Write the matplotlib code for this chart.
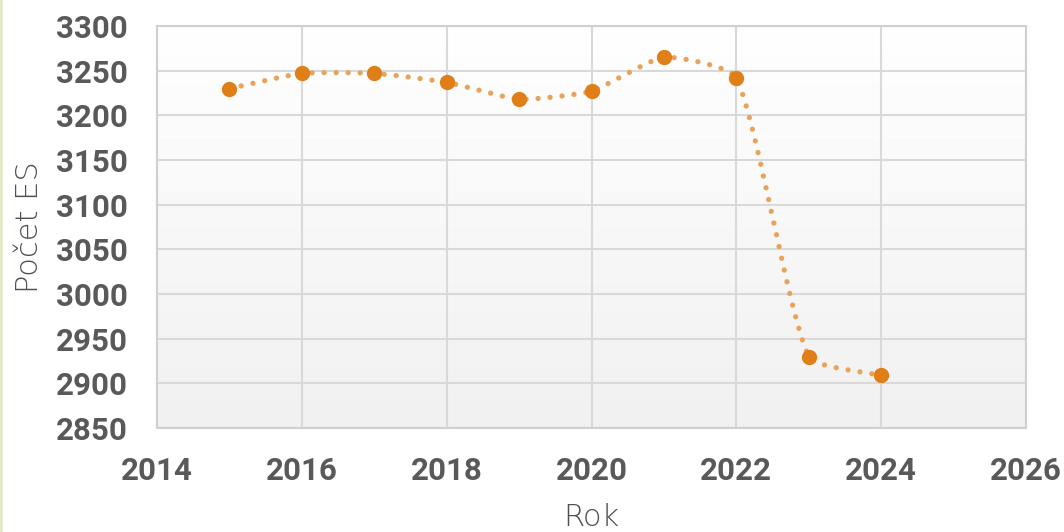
import numpy as np
import matplotlib
matplotlib.use("Agg")
import matplotlib.pyplot as plt
from matplotlib.lines import Line2D

years = [2015, 2016, 2017, 2018, 2019, 2020, 2021, 2022, 2023, 2024]
counts = [3230, 3247, 3247, 3237, 3218, 3227, 3265, 3242, 2930, 2909]
x_ticks = [2014, 2016, 2018, 2020, 2022, 2024, 2026]
y_ticks = [2850, 2900, 2950, 3000, 3050, 3100, 3150, 3200, 3250, 3300]
x_label = "Rok"
y_label = "Počet ES"

W, H = 1064, 532
L, R, T, B = 157, 1026, 26, 428


def smooth(ax, xs, ys, n=60, k=1 / 6):
    # Excel-like smoothing: cubic Bezier with normalized tangents, done in pixel space
    P = ax.transData.transform(np.column_stack([xs, ys]))
    m = len(P)
    D = []
    for i in range(m):
        a = P[i - 1] if i > 0 else P[i]
        b = P[i + 1] if i < m - 1 else P[i]
        d = b - a
        D.append(d / np.hypot(*d))
    out = []
    for i in range(m - 1):
        p1, p2 = P[i], P[i + 1]
        Ln = np.hypot(*(p2 - p1))
        c1 = p1 + D[i] * Ln * k
        c2 = p2 - D[i + 1] * Ln * k
        t = np.linspace(0, 1, n, endpoint=(i == m - 2))[:, None]
        seg = ((1 - t) ** 3) * p1 + 3 * ((1 - t) ** 2) * t * c1 + 3 * (1 - t) * t ** 2 * c2 + t ** 3 * p2
        out.append(seg)
    out = ax.transData.inverted().transform(np.vstack(out))
    return out[:, 0], out[:, 1]


fig = plt.figure(figsize=(W / 100, H / 100), dpi=100)
ax = fig.add_axes([L / W, 1 - B / H, (R - L) / W, (B - T) / H])

grad = np.linspace(1.0, 0.945, 256)[:, None]
ax.imshow(np.dstack([grad, grad, grad]), extent=[0, 1, 0, 1], transform=ax.transAxes,
          aspect="auto", zorder=0, interpolation="bicubic")

ax.set_xlim(2014, 2026)
ax.set_ylim(2850, 3300)
ax.set_xticks(x_ticks)
ax.set_yticks(y_ticks)
ax.grid(True, color="#D9D9D9", linewidth=1.5, zorder=1)
ax.set_axisbelow(True)
for s in ax.spines.values():
    s.set_color("#D0D0D0")
    s.set_linewidth(1.5)
ax.tick_params(length=0)
ax.tick_params(axis="y", pad=21)
ax.tick_params(axis="x", pad=20)
for lbl in ax.get_xticklabels() + ax.get_yticklabels():
    lbl.set_fontfamily("Roboto")
    lbl.set_fontweight("bold")
    lbl.set_fontsize(22.5)
    lbl.set_color("#595959")

sx, sy = smooth(ax, years, counts)
ax.plot(sx, sy, color="#E8A25A", linewidth=3.8, linestyle=(0, (0.01, 2.27)),
        dash_capstyle="round", zorder=3)
ax.plot(years, counts, linestyle="none", marker="o", markersize=10,
        color="#E07E17", markeredgecolor="#E07E17", zorder=4)

fig.text(591 / W, 1 - 517 / H, x_label, family="DejaVu Sans", weight="light", fontsize=22,
         color="#505050", ha="center", va="center")
fig.text(30 / W, 1 - 227 / H, y_label, family="DejaVu Sans", weight="light", fontsize=22,
         color="#505050", ha="center", va="center", rotation=90)

fig.add_artist(Line2D([0.001, 0.001], [0, 1], transform=fig.transFigure,
                      color="#E3E8C6", linewidth=2))

fig.savefig("out.png", dpi=100)
